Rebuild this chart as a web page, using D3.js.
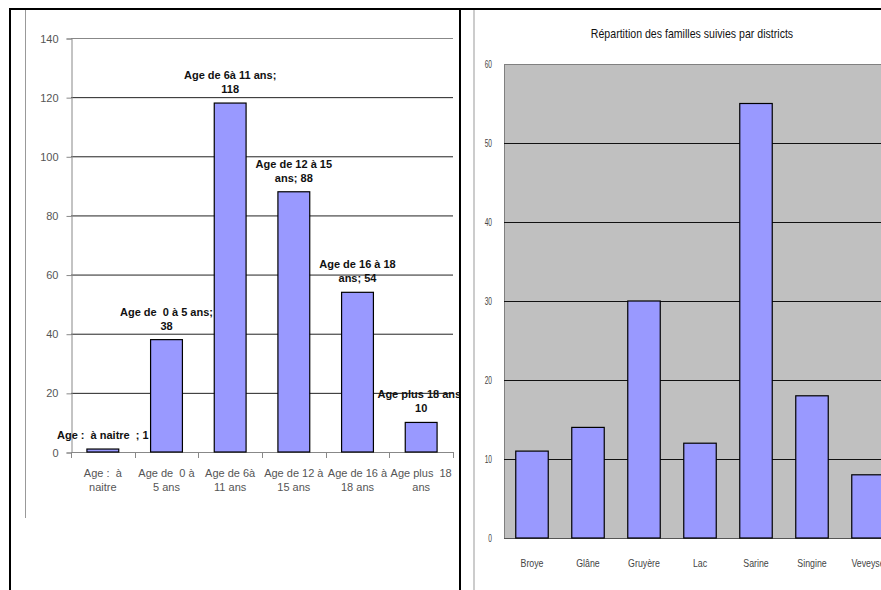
<!DOCTYPE html>
<html>
<head>
<meta charset="utf-8">
<script src="https://cdn.jsdelivr.net/npm/d3@7"></script>
<style>
  body { margin: 0; background: #fff; }
  svg text { white-space: pre; }
</style>
</head>
<body>
<div id="visualization"></div>
<script>
// Left chart: age groups
const ageCategories = [
  ["Age :  à", "naitre"],
  ["Age de  0 à", "5 ans"],
  ["Age de 6à", "11 ans"],
  ["Age de 12 à", "15 ans"],
  ["Age de 16 à", "18 ans"],
  ["Age plus  18", "ans"]
];
const ageValues = [1, 38, 118, 88, 54, 10];
const ageLabels = [
  ["Age :  à naitre  ; 1"],
  ["Age de  0 à 5 ans;", "38"],
  ["Age de 6à 11 ans;", "118"],
  ["Age de 12 à 15", "ans; 88"],
  ["Age de 16 à 18", "ans; 54"],
  ["Age plus 18 ans;", "10"]
];
const ageTicks = [0, 20, 40, 60, 80, 100, 120, 140];

// Right chart: districts
const districtTitle = "Répartition des familles suivies par districts";
const districts = ["Broye", "Glâne", "Gruyère", "Lac", "Sarine", "Singine", "Veveyse"];
const districtValues = [11, 14, 30, 12, 55, 18, 8];
const districtTicks = [0, 10, 20, 30, 40, 50, 60];

const W = 881, H = 590;
const barFill = "#9999ff";
const sans = "'Liberation Sans', Arial, sans-serif";

// no narrow font installed: squeeze text horizontally around its anchor
function narrowText(sel, sx) {
  sel.each(function() {
    const t = d3.select(this);
    const x = +t.attr("x") || 0, y = +t.attr("y") || 0;
    t.attr("x", 0).attr("y", 0)
     .attr("transform", `translate(${x},${y}) scale(${sx},1)`);
  });
}

const svg = d3.select("#visualization").append("svg")
  .attr("width", W).attr("height", H);

svg.append("rect").attr("width", W).attr("height", H).attr("fill", "#fff");

// clip for the left chart (cut at the divider)
svg.append("defs").append("clipPath").attr("id", "clipLeft")
  .append("rect").attr("x", 11).attr("y", 10).attr("width", 448).attr("height", H);

// ---------- left chart ----------
const left = svg.append("g").attr("clip-path", "url(#clipLeft)");

const x1 = d3.scaleBand()
  .domain(d3.range(ageValues.length))
  .range([71, 453])
  .paddingInner(0.5)
  .paddingOuter(0.25);

const y1 = d3.scaleLinear().domain([0, 140]).range([452, 38]);

// gridlines
left.append("g").selectAll("line")
  .data(ageTicks.filter(d => d > 0))
  .enter().append("line")
  .attr("x1", 71).attr("x2", 453)
  .attr("y1", d => y1(d) + 0.5).attr("y2", d => y1(d) + 0.5)
  .attr("stroke", d => d === 140 ? "#888" : "#222")
  .attr("stroke-width", 1);

// y axis
const yAxis1 = left.append("g")
  .attr("transform", "translate(71.5,0.5)")
  .call(d3.axisLeft(y1).tickValues(ageTicks).tickSize(5).tickPadding(8));
yAxis1.select(".domain").attr("stroke", "#888");
yAxis1.selectAll(".tick line").attr("stroke", "#888");
yAxis1.selectAll("text").attr("font-family", sans).attr("font-size", "11px").attr("fill", "#555");

// x axis baseline and boundary ticks
const bounds1 = d3.range(ageValues.length + 1).map(i => x1.range()[0] + i * x1.step());
left.append("line")
  .attr("x1", 71).attr("x2", 453)
  .attr("y1", y1(0) + 0.5).attr("y2", y1(0) + 0.5)
  .attr("stroke", "#888");
left.append("g").selectAll("line")
  .data(bounds1)
  .enter().append("line")
  .attr("x1", d => Math.round(d) + 0.5).attr("x2", d => Math.round(d) + 0.5)
  .attr("y1", y1(0)).attr("y2", y1(0) + 6)
  .attr("stroke", "#888");

// bars
left.selectAll(".bar")
  .data(ageValues)
  .enter().append("rect")
  .attr("class", "bar")
  .attr("x", (d, i) => x1(i))
  .attr("y", d => y1(d))
  .attr("width", x1.bandwidth())
  .attr("height", d => y1(0) - y1(d))
  .attr("fill", barFill)
  .attr("stroke", "#000")
  .attr("stroke-width", 1.2);

// category labels
left.append("g").selectAll("text")
  .data(ageCategories)
  .enter().append("text")
  .attr("x", (d, i) => x1(i) + x1.bandwidth() / 2)
  .attr("y", 477)
  .attr("text-anchor", "middle")
  .attr("font-family", sans).attr("font-size", "11px").attr("fill", "#555")
  .selectAll("tspan")
  .data(d => d)
  .enter().append("tspan")
  .attr("x", function() { return this.parentNode.getAttribute("x"); })
  .attr("dy", (d, i) => i === 0 ? 0 : 14)
  .text(d => d);

// data labels
left.append("g").selectAll("text")
  .data(ageLabels)
  .enter().append("text")
  .attr("x", (d, i) => x1(i) + x1.bandwidth() / 2)
  .attr("y", (d, i) => y1(ageValues[i]) - 10 - (d.length - 1) * 14)
  .attr("text-anchor", "middle")
  .attr("font-family", sans).attr("font-size", "11px").attr("font-weight", "bold").attr("fill", "#111")
  .selectAll("tspan")
  .data(d => d)
  .enter().append("tspan")
  .attr("x", function() { return this.parentNode.getAttribute("x"); })
  .attr("dy", (d, i) => i === 0 ? 0 : 14)
  .text(d => d);

// ---------- right chart ----------
const right = svg.append("g");

const x2 = d3.scaleBand()
  .domain(districts)
  .range([504, 504 + districts.length * 56])
  .paddingInner(0.42)
  .paddingOuter(0.21);

const y2 = d3.scaleLinear().domain([0, 60]).range([538, 64]);

right.append("text")
  .attr("x", 692).attr("y", 38)
  .attr("text-anchor", "middle")
  .attr("font-family", sans).attr("font-size", "13px").attr("fill", "#111")
  .text(districtTitle)
  .call(narrowText, 0.815);

// plot area
right.append("rect")
  .attr("x", 504.5).attr("y", y2(60) + 0.5)
  .attr("width", x2.range()[1] - 504).attr("height", y2(0) - y2(60))
  .attr("fill", "#c0c0c0")
  .attr("stroke", "#808080");

right.append("g").selectAll("line")
  .data(districtTicks.filter(d => d > 0 && d < 60))
  .enter().append("line")
  .attr("x1", 504).attr("x2", x2.range()[1])
  .attr("y1", d => Math.round(y2(d)) + 0.5).attr("y2", d => Math.round(y2(d)) + 0.5)
  .attr("stroke", "#111");

right.append("line")
  .attr("x1", 504).attr("x2", x2.range()[1])
  .attr("y1", y2(0) + 0.5).attr("y2", y2(0) + 0.5)
  .attr("stroke", "#555");

// y tick labels
right.append("g").selectAll("text")
  .data(districtTicks)
  .enter().append("text")
  .attr("x", 492).attr("y", d => y2(d) + 4)
  .attr("text-anchor", "end")
  .attr("font-family", sans).attr("font-size", "11px").attr("fill", "#444")
  .text(d => d)
  .call(narrowText, 0.6);

right.selectAll(".bar")
  .data(districtValues)
  .enter().append("rect")
  .attr("class", "bar")
  .attr("x", (d, i) => x2(districts[i]))
  .attr("y", d => y2(d))
  .attr("width", x2.bandwidth())
  .attr("height", d => y2(0) - y2(d))
  .attr("fill", barFill)
  .attr("stroke", "#000")
  .attr("stroke-width", 1.2);

right.append("g").selectAll("text")
  .data(districts)
  .enter().append("text")
  .attr("x", d => x2(d) + x2.bandwidth() / 2)
  .attr("y", 567)
  .attr("text-anchor", "middle")
  .attr("font-family", sans).attr("font-size", "11px").attr("fill", "#444")
  .text(d => d)
  .call(narrowText, 0.8);

// ---------- frames ----------
svg.append("line").attr("x1", 25.5).attr("x2", 25.5).attr("y1", 10).attr("y2", 518)
  .attr("stroke", "#999");
svg.append("line").attr("x1", 474).attr("x2", 474).attr("y1", 10).attr("y2", H)
  .attr("stroke", "#999");
svg.append("line").attr("x1", 9).attr("x2", W).attr("y1", 9).attr("y2", 9)
  .attr("stroke", "#000").attr("stroke-width", 2);
svg.append("line").attr("x1", 10).attr("x2", 10).attr("y1", 8).attr("y2", H)
  .attr("stroke", "#000").attr("stroke-width", 2);
svg.append("line").attr("x1", 460).attr("x2", 460).attr("y1", 8).attr("y2", H)
  .attr("stroke", "#000").attr("stroke-width", 2);
</script>
</body>
</html>
